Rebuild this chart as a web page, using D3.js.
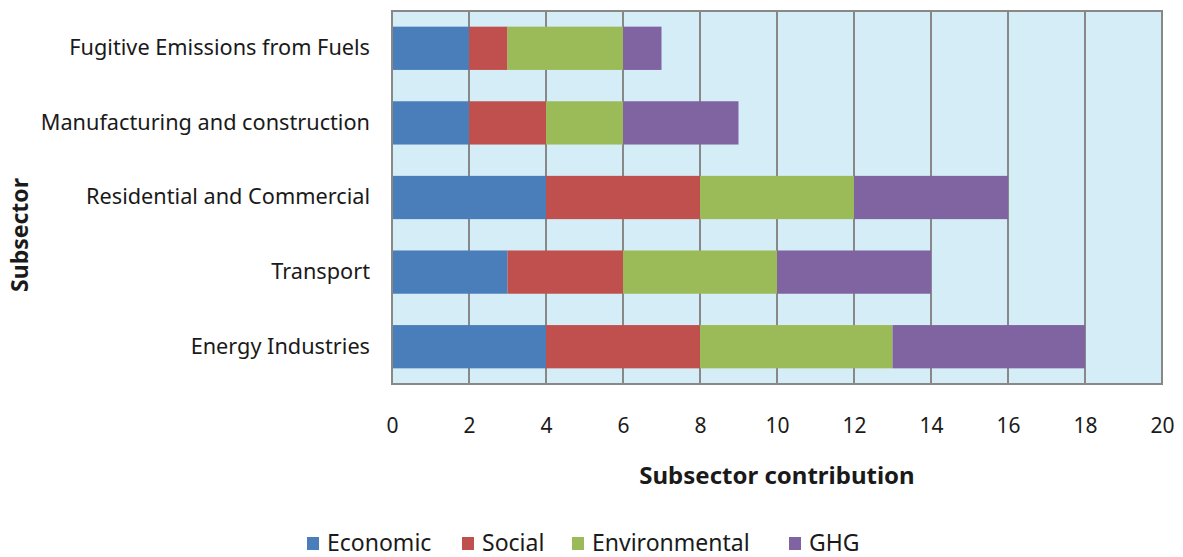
<!DOCTYPE html>
<html><head><meta charset="utf-8">
<script src="https://cdn.jsdelivr.net/npm/d3@7/dist/d3.min.js"></script>
<style>body{margin:0;background:#fff}svg{display:block}text{font-family:"Noto Sans",sans-serif;fill:#1a1a1a}</style>
</head><body><svg id="c" width="1183" height="557"></svg>
<script>
const categories = ["Fugitive Emissions from Fuels","Manufacturing and construction","Residential and Commercial","Transport","Energy Industries"];
const seriesNames = ["Economic","Social","Environmental","GHG"];
const economic = [2,2,4,3,4];
const social = [1,2,4,3,4];
const environmental = [3,2,4,4,5];
const ghg = [1,3,4,4,5];
const colors = ["#4a7ebb","#c0504d","#9bbb59","#8064a2"];
const xTicks = [0,2,4,6,8,10,12,14,16,18,20];

const svg = d3.select("#c");
const L=392,R=1162,T=11,B=384;
const x = d3.scaleLinear().domain([0,20]).range([L,R]);
const y = d3.scaleBand().domain(categories).range([T,B]).paddingInner(0.42).paddingOuter(0.21);
const rows = categories.map((c,i)=>({cat:c,Economic:economic[i],Social:social[i],Environmental:environmental[i],GHG:ghg[i]}));
const stack = d3.stack().keys(seriesNames)(rows);

svg.append("rect").attr("x",L).attr("y",T).attr("width",R-L).attr("height",B-T).attr("fill","#d5edf6");
svg.append("g").selectAll("line").data(xTicks.slice(1,-1)).join("line")
  .attr("x1",d=>x(d)).attr("x2",d=>x(d)).attr("y1",T).attr("y2",B)
  .attr("stroke","#888").attr("stroke-width",2);

stack.forEach((s,k)=>{
  svg.append("g").selectAll("rect").data(s).join("rect")
    .attr("x",d=>x(d[0])).attr("width",d=>x(d[1])-x(d[0]))
    .attr("y",d=>y(d.data.cat)).attr("height",y.bandwidth())
    .attr("fill",colors[k]);
});
svg.append("rect").attr("x",L).attr("y",T).attr("width",R-L).attr("height",B-T)
  .attr("fill","none").attr("stroke","#888").attr("stroke-width",2);

const xa = svg.append("g").attr("transform",`translate(0,${B})`)
  .call(d3.axisBottom(x).tickValues(xTicks).tickSize(0).tickPadding(34));
xa.select(".domain").remove();
xa.selectAll("text").style("font-size","21px").style("font-family","'Noto Sans',sans-serif").attr("fill","#1a1a1a");

const ya = svg.append("g").attr("transform",`translate(${L},0)`)
  .call(d3.axisLeft(y).tickSize(0).tickPadding(22));
ya.select(".domain").remove();
ya.selectAll("text").style("font-size","21.7px").style("font-family","'Noto Sans',sans-serif").attr("fill","#1a1a1a");

svg.append("text").attr("x",777).attr("y",484).attr("text-anchor","middle")
  .style("font-size","24px").style("font-weight","bold").text("Subsector contribution");
svg.append("text").attr("transform","translate(28,235) rotate(-90)").attr("text-anchor","middle")
  .style("font-size","23px").style("font-weight","bold").text("Subsector");

const legX = [307,462,572,789];
const lg = svg.append("g");
seriesNames.forEach((n,i)=>{
  lg.append("rect").attr("x",legX[i]).attr("y",537).attr("width",12).attr("height",13).attr("fill",colors[i]);
  lg.append("text").attr("x",legX[i]+20).attr("y",551).style("font-size","23px").text(n);
});
</script></body></html>
